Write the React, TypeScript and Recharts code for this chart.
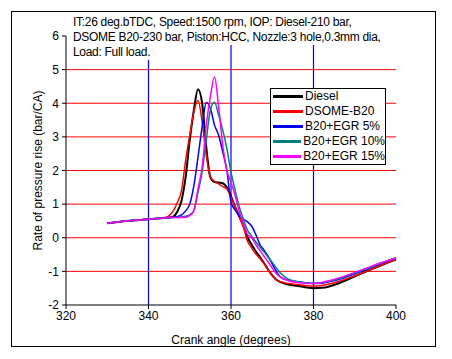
import React from 'react';
import { LineChart, Line, XAxis, YAxis, CartesianGrid, Legend, ReferenceLine } from 'recharts';

// crank angle (deg) shared by all series
const angles = [330, 332, 334, 336, 338, 340, 342, 344, 345, 346, 347, 348, 349, 350, 351, 352, 353, 354, 355, 356, 357, 358, 359, 360, 361, 362, 363, 364, 365, 366, 367, 368, 369, 370, 371, 372, 374, 376, 378, 380, 382, 384, 386, 388, 390, 392, 394, 396, 398, 400];

const diesel = [0.43, 0.46, 0.49, 0.51, 0.53, 0.55, 0.57, 0.59, 0.6, 0.63, 0.78, 1.1, 1.8, 2.9, 3.8, 4.42, 4.0, 2.7, 1.8, 1.66, 1.64, 1.62, 1.5, 1.24, 0.92, 0.64, 0.36, 0.02, -0.2, -0.4, -0.57, -0.75, -0.95, -1.12, -1.25, -1.32, -1.39, -1.43, -1.47, -1.5, -1.49, -1.44, -1.36, -1.26, -1.15, -1.04, -0.94, -0.84, -0.74, -0.65];
const dsomeB20 = [0.43, 0.46, 0.49, 0.51, 0.53, 0.55, 0.57, 0.6, 0.66, 0.8, 1.05, 1.4, 2.3, 3.05, 3.75, 4.08, 3.45, 2.45, 1.8, 1.68, 1.6, 1.52, 1.45, 1.2, 0.92, 0.62, 0.32, -0.1, -0.3, -0.48, -0.62, -0.77, -0.95, -1.12, -1.25, -1.31, -1.36, -1.39, -1.42, -1.44, -1.42, -1.37, -1.3, -1.22, -1.13, -1.04, -0.94, -0.84, -0.74, -0.64];
const egr5 = [0.43, 0.46, 0.49, 0.51, 0.53, 0.55, 0.57, 0.59, 0.6, 0.61, 0.63, 0.68, 0.8, 1.0, 1.55, 2.4, 3.3, 4.02, 3.85, 3.35, 3.05, 2.55, 2.0, 1.05, 0.82, 0.65, 0.55, 0.47, 0.35, 0.1, -0.2, -0.37, -0.55, -0.78, -1.0, -1.17, -1.27, -1.31, -1.34, -1.36, -1.35, -1.3, -1.24, -1.16, -1.07, -0.98, -0.88, -0.78, -0.69, -0.6];
const egr10 = [0.43, 0.46, 0.49, 0.51, 0.53, 0.55, 0.57, 0.59, 0.6, 0.6, 0.61, 0.62, 0.64, 0.68, 0.82, 1.35, 1.95, 2.9, 3.8, 4.03, 3.65, 3.2, 2.65, 1.95, 1.42, 0.92, 0.55, 0.22, 0.05, -0.12, -0.27, -0.42, -0.58, -0.73, -0.9, -1.05, -1.24, -1.3, -1.34, -1.36, -1.34, -1.29, -1.22, -1.14, -1.05, -0.96, -0.87, -0.77, -0.68, -0.6];
const egr15 = [0.43, 0.46, 0.49, 0.51, 0.53, 0.55, 0.57, 0.59, 0.6, 0.6, 0.6, 0.6, 0.61, 0.66, 0.8, 1.45, 2.1, 3.35, 4.2, 4.79, 3.9, 2.75, 2.0, 1.65, 1.25, 0.78, 0.42, 0.1, 0.0, -0.2, -0.38, -0.55, -0.72, -0.9, -1.07, -1.17, -1.28, -1.33, -1.35, -1.36, -1.33, -1.27, -1.2, -1.12, -1.03, -0.94, -0.85, -0.76, -0.68, -0.6];

const xTicks = [320, 340, 360, 380, 400];
const xMinorTicks = [330, 350, 370, 390];
const yTicks = [-2, -1, 0, 1, 2, 3, 4, 5, 6];
const yMinorTicks = [-1.5, -0.5, 0.5, 1.5, 2.5, 3.5, 4.5, 5.5];
const redGrid = [-1, 0, 1, 2, 3, 4, 5];
const blueGrid = [340, 360, 380];

const annotation = [
  'IT:26 deg.bTDC, Speed:1500 rpm, IOP: Diesel-210 bar,',
  'DSOME B20-230 bar, Piston:HCC, Nozzle:3 hole,0.3mm dia,',
  'Load: Full load.',
];

const series = [
  { key: 'diesel', name: 'Diesel', color: '#000000', width: 2, values: diesel },
  { key: 'dsome', name: 'DSOME-B20', color: '#ff0000', width: 1.5, values: dsomeB20 },
  { key: 'egr5', name: 'B20+EGR 5%', color: '#0000ff', width: 1.5, values: egr5 },
  { key: 'egr10', name: 'B20+EGR 10%', color: '#008080', width: 1.5, values: egr10 },
  { key: 'egr15', name: 'B20+EGR 15%', color: '#ff00ff', width: 1.5, values: egr15 },
];

const data = angles.map((a, i) => {
  const row: Record<string, number> = { angle: a };
  series.forEach(s => { row[s.key] = s.values[i]; });
  return row;
});

const font = '"Liberation Sans", Arial, sans-serif';
const tickStyle = { fontSize: 12, fill: '#000', fontFamily: font };

const LegendBox = () => (
  <div style={{ width: 114, border: '1px solid #000', background: '#fff', fontFamily: font, fontSize: 12, lineHeight: '15px', color: '#000' }}>
    {series.map(s => (
      <div key={s.key} style={{ display: 'flex', alignItems: 'center', whiteSpace: 'nowrap' }}>
        <span style={{ display: 'inline-block', width: 30, height: 3, background: s.color, marginLeft: 2, marginRight: 2 }} />
        <span>{s.name}</span>
      </div>
    ))}
  </div>
);

export default function App() {
  return (
    <div style={{ position: 'relative', width: 436, height: 343 }}>
      <LineChart width={436} height={343} data={data} margin={{ top: 28, right: 48, bottom: 0, left: 0 }}>
        <CartesianGrid vertical={false} horizontalValues={redGrid} stroke="#ff0000" strokeWidth={1} />
        {blueGrid.map(v => (
          <ReferenceLine key={v} x={v} stroke="#0000ff" strokeWidth={1.2} />
        ))}
        <XAxis xAxisId="minor" type="number" dataKey="angle" domain={[320, 400]} ticks={xMinorTicks} height={0}
          tickSize={3} axisLine={false} tickLine={{ stroke: '#000' }} tickFormatter={() => ''} />
        <XAxis type="number" dataKey="angle" domain={[320, 400]} ticks={xTicks} height={46}
          tickSize={4} tickMargin={2} tick={tickStyle} axisLine={{ stroke: '#000' }} tickLine={{ stroke: '#000' }}
          label={{ value: 'Crank angle (degrees)', position: 'insideBottom', offset: 7, style: { fontSize: 12, fill: '#000', fontFamily: font } }} />
        <YAxis yAxisId="minor" type="number" domain={[-2, 6]} ticks={yMinorTicks} width={0}
          tickSize={3} axisLine={false} tickLine={{ stroke: '#000' }} tickFormatter={() => ''} />
        <YAxis type="number" domain={[-2, 6]} ticks={yTicks} width={58}
          tickSize={4} tickMargin={3} tick={tickStyle} axisLine={{ stroke: '#000' }} tickLine={{ stroke: '#000' }}
          label={{ value: 'Rate of pressure rise (bar/CA)', angle: -90, position: 'center', dx: 1, style: { fontSize: 12, fill: '#000', fontFamily: font, textAnchor: 'middle' } }} />
        <Legend layout="vertical" align="center" verticalAlign="middle" content={() => <LegendBox />}
          wrapperStyle={{ left: 262, top: 80, width: 116, height: 77 }} />
        {series.map(s => (
          <Line key={s.key} type="monotone" dataKey={s.key} name={s.name} stroke={s.color} strokeWidth={s.width}
            dot={false} activeDot={false} isAnimationActive={false} />
        ))}
      </LineChart>
      <div style={{ position: 'absolute', left: 65, top: 7, fontFamily: font, fontSize: 12, lineHeight: '15px', color: '#000', letterSpacing: -0.3 }}>
        {annotation.map(t => (
          <div key={t} style={{ background: '#fff', width: 'fit-content', whiteSpace: 'nowrap' }}>{t}</div>
        ))}
      </div>
      <div style={{ position: 'absolute', left: 3, top: 3, width: 425, height: 336, border: '1px solid #000', boxSizing: 'border-box', pointerEvents: 'none' }} />
    </div>
  );
}
